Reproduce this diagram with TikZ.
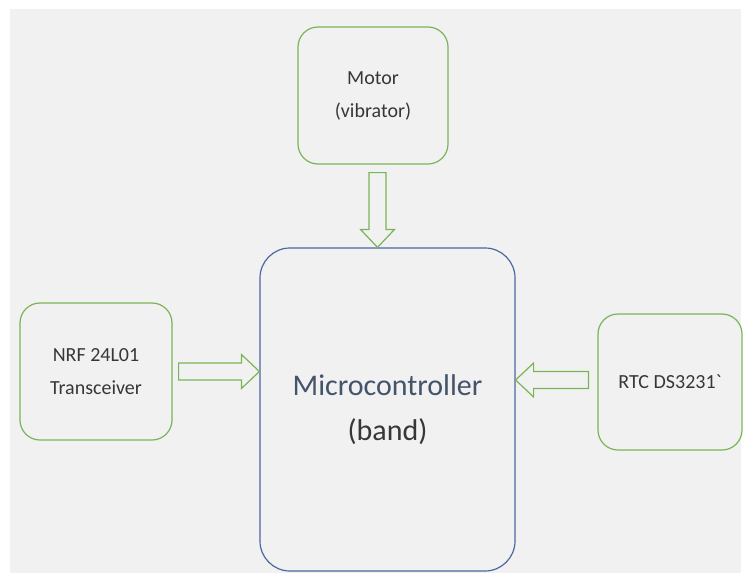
\documentclass[tikz,border=0pt]{standalone}
\usepackage{fontspec}
\setmainfont{Carlito}
\usepackage{xcolor}
\usepackage{tikz}
\usetikzlibrary{calc}
\usetikzlibrary{positioning}
\definecolor{boxgreen}{RGB}{122,180,88}
\definecolor{mcublue}{RGB}{76,104,160}
\definecolor{bggray}{RGB}{241,241,241}
\definecolor{titlecol}{RGB}{68,84,106}
\definecolor{txtgray}{RGB}{55,55,55}
\def\largeur{743}
\def\hauteur{573}
% hollow block arrow from #1 (tail) to #2 (tip)
\newcommand{\blockarrow}[2]{%
	\coordinate (ba) at ($(#2)!18pt!(#1)$);
	\draw[arrowline] ($(#1)!8.5pt!90:(#2)$) -- ($(ba)!8.5pt!90:(#2)$) -- ($(ba)!17pt!90:(#2)$) -- (#2)
		-- ($(ba)!17pt!-90:(#2)$) -- ($(ba)!8.5pt!-90:(#2)$) -- ($(#1)!8.5pt!-90:(#2)$) -- cycle;
}

\begin{document}
\begin{tikzpicture}[x=1pt, y=-1pt,
	modbox/.style={draw=boxgreen, line width=1.2pt, rounded corners=20pt, inner sep=0pt,
		text=txtgray, align=center, font=\fontsize{20}{33}\selectfont},
	ctrlbox/.style={draw=mcublue, line width=1.2pt, rounded corners=30pt, inner sep=0pt,
		text=txtgray, align=center, font=\fontsize{30}{45}\selectfont},
	arrowline/.style={draw=boxgreen, line width=1.2pt}]
	\useasboundingbox (0,0) rectangle (\largeur,\hauteur);
	\fill[bggray] (10,9) rectangle (741,\hauteur);
	%\draw[step=50, black!20!white] (0,0) grid (\largeur,\hauteur);
	\node[modbox, minimum width=150pt, minimum height=137pt] (motor) at (373,95.5) {Motor\\(vibrator)};
	\node[modbox, minimum width=152pt, minimum height=137pt] (nrf) at (96,371.5) {NRF 24L01\\Transceiver};
	\node[modbox, minimum width=144pt, minimum height=136pt] (rtc) at (670,382) {RTC DS3231\textasciigrave};
	\node[ctrlbox, minimum width=255pt, minimum height=323pt] (mcu) at (387.5,409.5) {\textcolor{titlecol}{Microcontroller}\\(band)};
	% arrows
	\coordinate (motorout) at ($(motor.south)+(4.5,8)$);
	\coordinate (motorin) at (motorout |- mcu.north);
	\coordinate (nrfout) at ($(nrf.east)+(6,0)$);
	\coordinate (nrfin) at (mcu.west |- nrfout);
	\coordinate (rtcout) at ($(rtc.west)+(-9,-2)$);
	\coordinate (rtcin) at (mcu.east |- rtcout);
	\blockarrow{motorout}{motorin}
	\blockarrow{nrfout}{nrfin}
	\blockarrow{rtcout}{rtcin}
\end{tikzpicture}
\end{document}
